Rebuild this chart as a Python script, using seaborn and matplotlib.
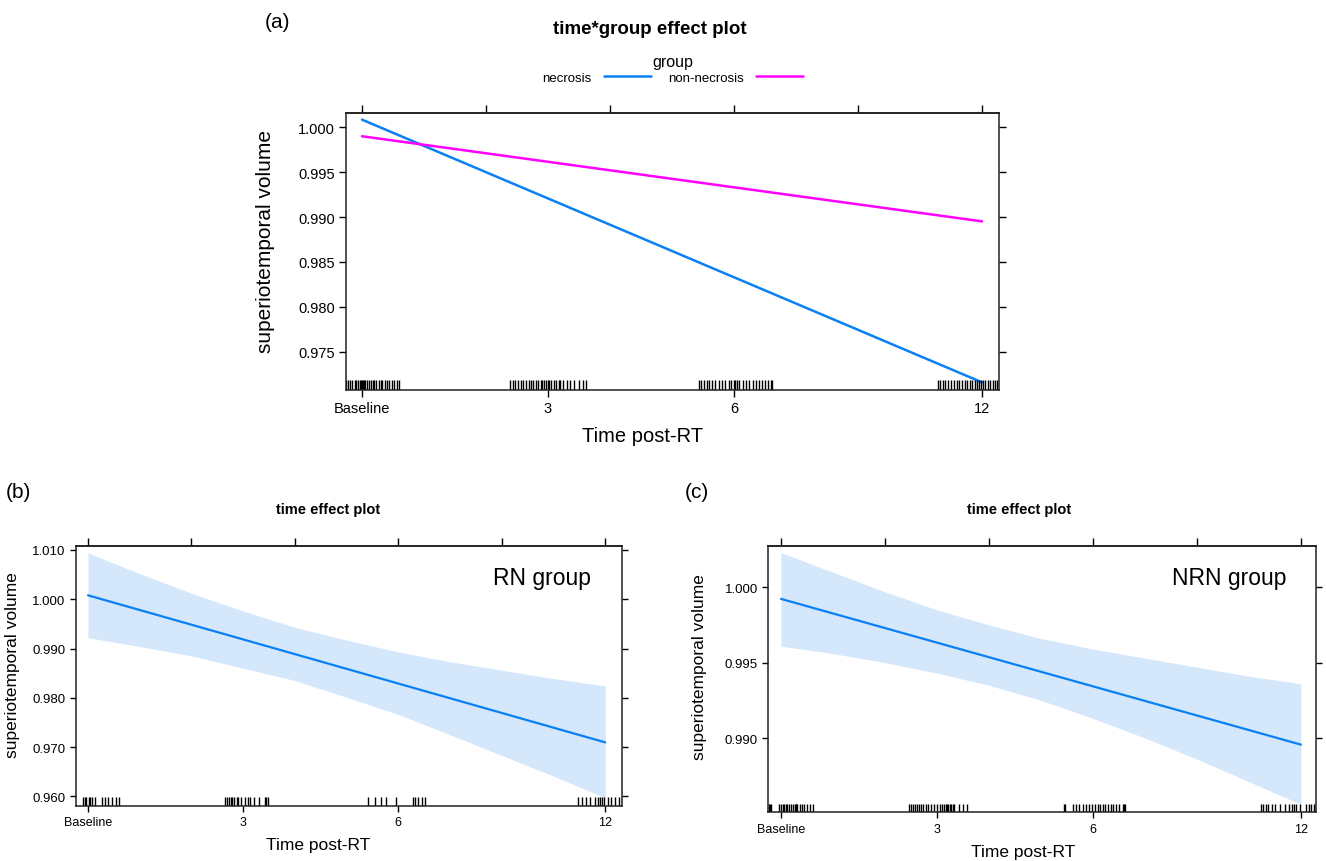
import numpy as np
import pandas as pd
import matplotlib
matplotlib.use('Agg')
import matplotlib.pyplot as plt
from matplotlib.lines import Line2D
import seaborn as sns

# --- dados ---
# eixo x: Baseline=0, depois 3, 6 e "12" (posicao 10 na escala do grafico)
tempo_pos = [0, 3, 6, 10]
tempo_rotulos = ['Baseline', '3', '6', '12']
ticks_topo = [0, 2, 4, 6, 8, 10]

# (a) efeito tempo*grupo (retas)
grupos = ['necrosis', 'non-necrosis']
a_x = [0, 10]
a_necrosis = [1.00085, 0.97159]
a_non_necrosis = [0.99900, 0.98952]
a_yticks = [1.000, 0.995, 0.990, 0.985, 0.980, 0.975]

# (b) grupo RN: reta ajustada + banda de confianca
reta_x = [0, 10]
b_fit = [1.0008, 0.97095]
grade_x = [0, 1, 2, 3, 4, 5, 6, 7, 8, 9, 10]
b_sup = [1.0094, 1.0052, 1.0012, 0.9976, 0.9943, 0.9917, 0.9893, 0.9873, 0.9856, 0.9839, 0.9824]
b_inf = [0.9922, 0.9904, 0.9885, 0.9860, 0.9835, 0.9801, 0.9766, 0.9725, 0.9683, 0.9641, 0.9597]
b_yticks = [1.010, 1.000, 0.990, 0.980, 0.970, 0.960]

# (c) grupo NRN
c_fit = [0.99923, 0.98956]
c_sup = [1.0023, 1.0010, 0.9997, 0.9985, 0.9975, 0.9966, 0.9959, 0.9953, 0.9947, 0.9941, 0.9936]
c_inf = [0.9961, 0.9956, 0.9950, 0.9943, 0.9935, 0.9925, 0.9913, 0.9900, 0.9886, 0.9871, 0.9856]
c_yticks = [1.000, 0.995, 0.990]

# rug (tempos observados com jitter)
a_rug = [-0.25, -0.22, -0.19, -0.16, -0.12, -0.09, -0.07, -0.04, -0.02, 0.0, 0.01, 0.03, 0.05, 0.08,
         0.11, 0.14, 0.17, 0.2, 0.23, 0.27, 0.3, 0.33, 0.37, 0.4, 0.44, 0.48, 0.52, 0.56, 0.6,
         2.39, 2.43, 2.47, 2.52, 2.56, 2.6, 2.65, 2.69, 2.72, 2.76, 2.8, 2.84, 2.88, 2.91, 2.94,
         2.97, 3.0, 3.02, 3.05, 3.09, 3.13, 3.17, 3.2, 3.24, 3.3, 3.36, 3.42, 3.5, 3.56, 3.61,
         5.43, 5.47, 5.52, 5.56, 5.6, 5.65, 5.7, 5.76, 5.8, 5.86, 5.92, 5.96, 6.0, 6.02, 6.05,
         6.08, 6.14, 6.2, 6.25, 6.3, 6.36, 6.41, 6.46, 6.5, 6.55, 6.6, 6.62,
         9.29, 9.33, 9.37, 9.41, 9.46, 9.5, 9.55, 9.59, 9.63, 9.68, 9.72, 9.76, 9.8, 9.84, 9.88,
         9.92, 9.95, 9.98, 10.01, 10.05, 10.09, 10.13, 10.17, 10.21, 10.25]
b_rug = [-0.09, -0.06, -0.03, 0.01, 0.04, 0.08, 0.14, 0.28, 0.33, 0.39, 0.46, 0.55, 0.59,
         2.64, 2.68, 2.72, 2.76, 2.79, 2.83, 2.88, 2.91, 2.95, 3.04, 3.09, 3.13, 3.21, 3.31,
         3.42, 3.45, 3.48,
         5.41, 5.54, 5.67, 5.77, 5.95, 6.29, 6.33, 6.39, 6.46, 6.51,
         9.47, 9.55, 9.63, 9.71, 9.8, 9.86, 9.9, 9.94, 9.98, 10.05, 10.12, 10.2, 10.26]
c_rug = [-0.24, -0.22, -0.2, -0.03, 0.0, 0.03, 0.06, 0.09, 0.12, 0.16, 0.2, 0.24, 0.27, 0.28,
         0.29, 0.3, 0.36, 0.4, 0.44, 0.5, 0.56, 0.62,
         2.46, 2.5, 2.54, 2.58, 2.62, 2.66, 2.7, 2.74, 2.78, 2.83, 2.88, 2.95, 3.0, 3.05, 3.1,
         3.14, 3.17, 3.2, 3.22, 3.25, 3.27, 3.3, 3.33, 3.43, 3.5, 3.58,
         5.44, 5.47, 5.62, 5.68, 5.74, 5.8, 5.86, 5.93, 5.98, 6.04, 6.09, 6.14, 6.19, 6.24,
         6.29, 6.34, 6.39, 6.44, 6.5, 6.58, 6.6, 6.62,
         9.24, 9.28, 9.32, 9.37, 9.45, 9.5, 9.6, 9.7, 9.78, 9.82, 9.86, 9.9, 9.98, 10.1,
         10.15, 10.2, 10.25, 10.29]

AZUL = '#0a80f5'
MAGENTA = '#ff00ff'
BANDA = '#d5e7fa'

sns.set_theme(style='white')
plt.rcParams['font.family'] = ['Liberation Sans', 'DejaVu Sans']
for chave in ['text.color', 'axes.labelcolor', 'xtick.color', 'ytick.color']:
    plt.rcParams[chave] = 'black'

W, H = 1326, 862
fig = plt.figure(figsize=(W / 100, H / 100), dpi=100)


def caixa(esq, topo, dir, base):
    """retangulo em pixels -> coordenadas da figura"""
    return [esq / W, 1 - base / H, (dir - esq) / W, (base - topo) / H]


def texto(x, y, s, **kw):
    fig.text(x / W, 1 - y / H, s, ha='center', va='center', **kw)


def estilo_lattice(ax, xlim, ylim, yticks, tam_y, tam_x, tam_tick=5):
    ax.set_xlim(*xlim)
    ax.set_ylim(*ylim)
    ax.set_xticks(tempo_pos)
    ax.set_xticklabels(tempo_rotulos, fontsize=tam_x)
    ax.set_yticks(yticks)
    ax.set_yticklabels(['{:.3f}'.format(v) for v in yticks], fontsize=tam_y)
    ax.tick_params(axis='both', direction='out', length=tam_tick, width=1, color='black',
                   left=True, bottom=True, right=True, labelright=False, pad=3)
    for sp in ax.spines.values():
        sp.set_color('#222222')
        sp.set_linewidth(1.1)
    topo = ax.secondary_xaxis('top')
    topo.set_xticks(ticks_topo)
    topo.set_xticklabels([])
    topo.tick_params(direction='out', length=tam_tick + 1, width=1, color='black')
    ax.set_xlabel('')
    ax.set_ylabel('')
    ax.grid(False)


# ---------------- (a) ----------------
ax_a = fig.add_axes(caixa(346, 114, 998.7, 390.7))
df_a = pd.DataFrame({
    'tempo': a_x * 2,
    'volume': a_necrosis + a_non_necrosis,
    'group': [grupos[0]] * 2 + [grupos[1]] * 2,
})
sns.lineplot(data=df_a, x='tempo', y='volume', hue='group', palette=[AZUL, MAGENTA],
             lw=1.8, legend=False, ax=ax_a)
sns.rugplot(x=a_rug, height=0.036, color='black', lw=1.2, ax=ax_a)
estilo_lattice(ax_a, (-0.258, 10.27), (0.97077, 1.00159), a_yticks, 10.5, 10.5, 5)
ax_a.set_ylabel('superiotemporal volume', fontsize=15)
ax_a.yaxis.set_label_coords(-0.109, 0.538)

texto(277, 22, '(a)', fontsize=15)
texto(650, 30, 'time*group effect plot', fontsize=13.5, fontweight='bold')
texto(643, 437, 'Time post-RT', fontsize=14.5)

alcas = [Line2D([], [], color=AZUL, lw=1.8), Line2D([], [], color=MAGENTA, lw=1.8)]
leg = fig.legend(alcas, grupos, loc='center', bbox_to_anchor=(673 / W, 1 - 70 / H), ncol=2,
                 frameon=False, title='group', handlelength=3.6,
                 columnspacing=1.3, handletextpad=0.9, borderpad=0, labelspacing=0.2,
                 prop={'size': 9.5}, title_fontsize=11.5)
# texto antes da linha, como no original
for par in leg._legend_handle_box.get_children():
    for item in par.get_children():
        item._children.reverse()

# ---------------- (b) ----------------
ax_b = fig.add_axes(caixa(75.7, 546.7, 621.7, 806.7))
ax_b.fill_between(grade_x, b_inf, b_sup, color=BANDA, lw=0)
sns.lineplot(x=reta_x, y=b_fit, color=AZUL, lw=1.6, ax=ax_b)
sns.rugplot(x=b_rug, height=0.032, color='black', lw=1.0, ax=ax_b)
estilo_lattice(ax_b, (-0.238, 10.32), (0.95809, 1.01087), b_yticks, 9.5, 9, 4.5)
ax_b.set_ylabel('superiotemporal volume', fontsize=12.5)
ax_b.yaxis.set_label_coords(-0.102, 0.545)
fig.text(493 / W, 1 - 579 / H, 'RN group', fontsize=16.5, ha='left', va='center')

texto(18, 493, '(b)', fontsize=15)
texto(328, 510, 'time effect plot', fontsize=10.5, fontweight='bold')
texto(318, 846, 'Time post-RT', fontsize=12.5)

# ---------------- (c) ----------------
ax_c = fig.add_axes(caixa(768.3, 546.7, 1316, 813.3))
ax_c.fill_between(grade_x, c_inf, c_sup, color=BANDA, lw=0)
sns.lineplot(x=reta_x, y=c_fit, color=AZUL, lw=1.6, ax=ax_c)
sns.rugplot(x=c_rug, height=0.032, color='black', lw=1.0, ax=ax_c)
estilo_lattice(ax_c, (-0.244, 10.29), (0.98507, 1.00276), c_yticks, 9.5, 9, 4.5)
ax_c.set_ylabel('superiotemporal volume', fontsize=12.5)
ax_c.yaxis.set_label_coords(-0.1125, 0.55)
fig.text(1287 / W, 1 - 579 / H, 'NRN group', fontsize=16.5, ha='right', va='center')

texto(697, 493, '(c)', fontsize=15)
texto(1019, 510, 'time effect plot', fontsize=10.5, fontweight='bold')
texto(1023, 853, 'Time post-RT', fontsize=12.5)

fig.savefig('out.png', dpi=100, facecolor='white')
